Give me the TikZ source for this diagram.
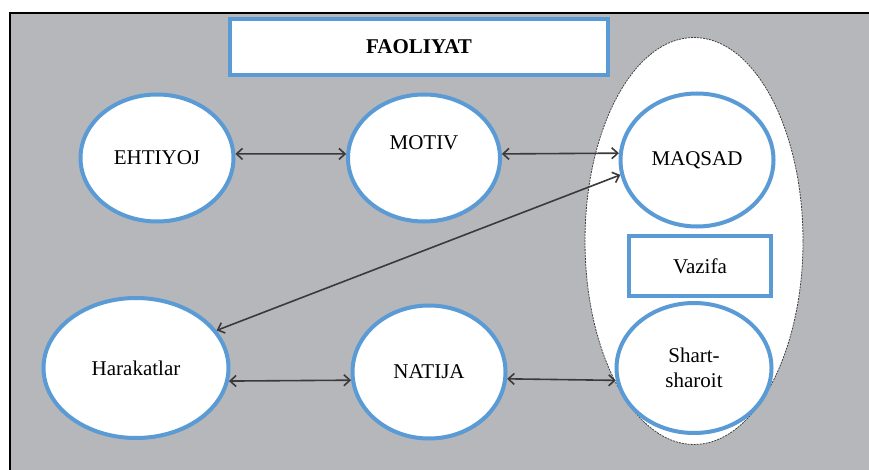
\documentclass[tikz,border=0pt]{standalone}
\usepackage{fontspec}
\setmainfont{Liberation Serif}
\usetikzlibrary{shapes.geometric,arrows.meta,shadows}
\definecolor{bgray}{HTML}{B6B7BB}
\definecolor{mblue}{HTML}{5B9BD5}
\definecolor{arrgray}{HTML}{3A3A3A}
\tikzset{
  oval/.style={ellipse, draw=mblue, line width=4pt, fill=white, inner sep=0pt,
    font=\fontsize{21}{25}\selectfont, align=center,
    drop shadow={shadow xshift=1pt, shadow yshift=-1.5pt, opacity=.35, fill=black}},
  bluebox/.style={rectangle, draw=mblue, line width=4pt, fill=white, inner sep=0pt},
  arr/.style={draw=arrgray, line width=1.6pt, {Straight Barb[length=6pt,width=11pt]}-{Straight Barb[length=6pt,width=11pt]}}
}
\begin{document}
\begin{tikzpicture}[x=1pt,y=-1pt]
\useasboundingbox (0,0) rectangle (869,470);
\fill[white] (0,0) rectangle (869,470);
\fill[bgray] (10,13) rectangle (869,470);
\draw[black, line width=2.2pt] (10,470) -- (10,13) -- (869,13);
% outer ellipse
\node[ellipse, draw=black!75, dash pattern=on 2pt off 1pt, line width=0.8pt, fill=white,
  minimum width=218pt, minimum height=407pt, inner sep=0pt] (big) at (694,241) {};
% title
\node[bluebox, minimum width=378pt, minimum height=56pt, font=\bfseries\fontsize{21}{25}\selectfont] (faoliyat) at (419,47) {FAOLIYAT};
% ovals
\node[oval, minimum width=153pt, minimum height=127pt] (ehtiyoj) at (157,158) {EHTIYOJ};
\node[oval, minimum width=152pt, minimum height=127pt] (motiv) at (424,158) {MOTIV\\[6pt]};
\node[oval, minimum width=153pt, minimum height=133pt] (maqsad) at (697,160) {MAQSAD};
\node[bluebox, minimum width=142pt, minimum height=60pt, font=\fontsize{21}{25}\selectfont] (vazifa) at (700,266) {Vazifa};
\node[oval, minimum width=155pt, minimum height=130pt] (shart) at (694,368) {Shart-\\sharoit};
\node[oval, minimum width=185pt, minimum height=140pt] (harakat) at (136,368) {Harakatlar};
\node[oval, minimum width=153pt, minimum height=133pt] (natija) at (429,372) {NATIJA};
% connectors
\draw[arr] (ehtiyoj.3) -- (motiv.177);
\draw[arr] (motiv.3) -- (maqsad.175);
\draw[arr] (harakat.25) -- (maqsad.191);
\draw[arr] (harakat.-8) -- (natija.186);
\draw[arr] (natija.-5) -- (shart.189);
\end{tikzpicture}
\end{document}
